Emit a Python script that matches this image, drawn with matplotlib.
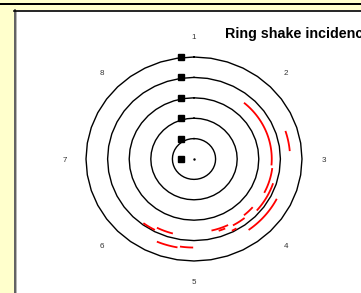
import numpy as np
import matplotlib.pyplot as plt
from matplotlib.patches import Rectangle

# ring radii and sector labels (clockwise from top)
rings = [1, 2, 3, 4, 5]
sectors = ["1", "2", "3", "4", "5", "6", "7", "8"]
label_radius = 6.0

# black markers (radial position on the 1-line)
marker_r = [0, 1, 2, 3, 4, 5]

# red shake arcs: radius, start angle, end angle (deg, clockwise from sector 1)
arc_r = [3.6, 3.65, 4.45, 3.85, 4.3, 3.6, 3.72, 3.93, 3.6, 3.7, 3.78, 3.92, 4.4, 4.34]
arc_start = [40, 97, 72, 108, 117, 131, 141, 150, 154, 157, 195, 207.5, 190, 180.5]
arc_end = [95, 117, 85, 131, 144, 140, 151, 153.5, 167, 162, 207, 216.7, 203, 188.6]

W, H = 361, 293
cx, cy = 194, 159
sx, sy = 21.6, 20.4
yellow = "#FFFFCC"

fig = plt.figure(figsize=(W / 100, H / 100), dpi=100, facecolor=yellow)

# frame pieces in pixel coordinates
bg = fig.add_axes([0, 0, 1, 1])
bg.set_xlim(0, W)
bg.set_ylim(H, 0)
bg.axis("off")
bg.add_patch(Rectangle((0, 0), W, H, facecolor=yellow, edgecolor="none"))
bg.add_patch(Rectangle((0, 3), W, 2, color="black", lw=0))
bg.add_patch(Rectangle((14, 10), W, H, facecolor="white", edgecolor="none"))
bg.plot([14.5, 14.5], [10, H], color="#444444", lw=1.2)
bg.plot([15.5, 15.5], [11, H], color="#aaaaaa", lw=0.6)
bg.plot([14, W], [10.5, 10.5], color="black", lw=1.2)

ax = fig.add_axes([0, 0, 1, 1])
ax.set_xlim(-cx / sx, (W - cx) / sx)
ax.set_ylim(-(H - cy) / sy, cy / sy)
ax.axis("off")

t = np.linspace(0, 2 * np.pi, 41)
for r in rings:
    ax.plot(r * np.sin(t), r * np.cos(t), color="black", lw=1.0)

for r, a0, a1 in zip(arc_r, arc_start, arc_end):
    a = np.radians(np.linspace(a0, a1, 30))
    ax.plot(r * np.sin(a), r * np.cos(a), color="red", lw=1.3, solid_capstyle="butt")

ax.plot([-0.6] * len(marker_r), marker_r, "s", color="black", ms=5)
ax.plot([0], [0], ".", color="black", ms=1.5)

for i, s in enumerate(sectors):
    a = np.radians(45 * i)
    ax.text(label_radius * np.sin(a), label_radius * np.cos(a) - 0.05, s,
            ha="center", va="center", fontsize=5.8, color="#333333",
            family="Liberation Sans")

# title runs off the right edge, as in the reference
fig.text(225 / W, 1 - 34 / H, "Ring shake incidence", ha="left", va="center",
         fontsize=10.3, fontweight="bold", family="Liberation Sans")

fig.savefig("out.png", dpi=100, facecolor=yellow)
